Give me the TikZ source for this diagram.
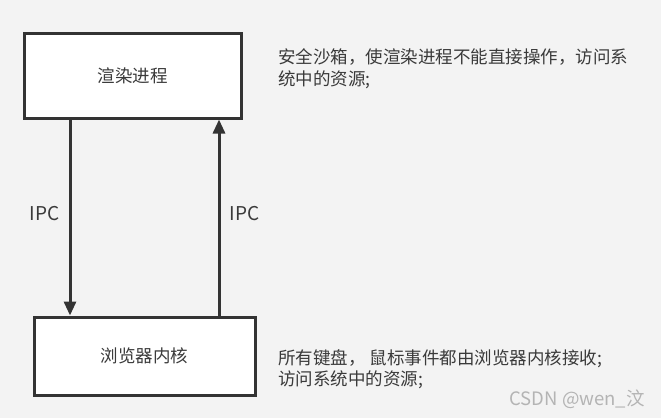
\documentclass[tikz,border=0pt]{standalone}
\usepackage{fontspec}
\setmainfont{Noto Sans CJK SC}
\usetikzlibrary{arrows.meta}
\definecolor{bg}{HTML}{F3F3F3}
\definecolor{ink}{HTML}{333333}
\definecolor{txt}{HTML}{3A3A3A}
\definecolor{wm}{HTML}{B4B4B4}
\tikzset{
  procbox/.style={draw=ink, line width=3pt, fill=white, inner sep=0pt,
    font=\fontsize{17.5}{20}\selectfont, text=txt},
  conn/.style={draw=ink, line width=3pt, -{Triangle[length=14pt,width=12pt]}},
  note/.style={anchor=west, inner sep=0pt, align=left, text=txt,
    font=\fontsize{17.5}{21.5}\selectfont},
  ipc/.style={inner sep=0pt, text=txt, font=\fontsize{19}{20}\selectfont}
}
\begin{document}
\begin{tikzpicture}[x=1pt,y=-1pt]
\fill[bg] (0,0) rectangle (661,418);
\useasboundingbox (0,0) rectangle (661,418);
\node[procbox, minimum width=217pt, minimum height=85pt] (render) at (132.5,75.5) {渲染进程};
\node[procbox, minimum width=221pt, minimum height=78pt] (kernel) at (144.5,356) {浏览器内核};
\coordinate (lx) at (70,0);
\coordinate (rx) at (219,0);
\draw[conn] (lx |- render.south) -- node[ipc, pos=0.48, left=9pt] (ipcl) {IPC} (lx |- kernel.north);
\draw[conn] (rx |- kernel.north) -- node[ipc, pos=0.52, right=9pt] (ipcr) {IPC} (rx |- render.south);
\node[note] (n1) at (278,68.5) {安全沙箱，使渲染进程不能直接操作，访问系\\统中的资源;};
\node[note] (n2) at (278,369) {所有键盘， 鼠标事件都由浏览器内核接收;\\访问系统中的资源;};
\node[anchor=east, inner sep=0pt, text=wm, font=\fontsize{18.5}{20}\selectfont] (wmk) at (645,399) {CSDN @wen\_汶};
\end{tikzpicture}
\end{document}
